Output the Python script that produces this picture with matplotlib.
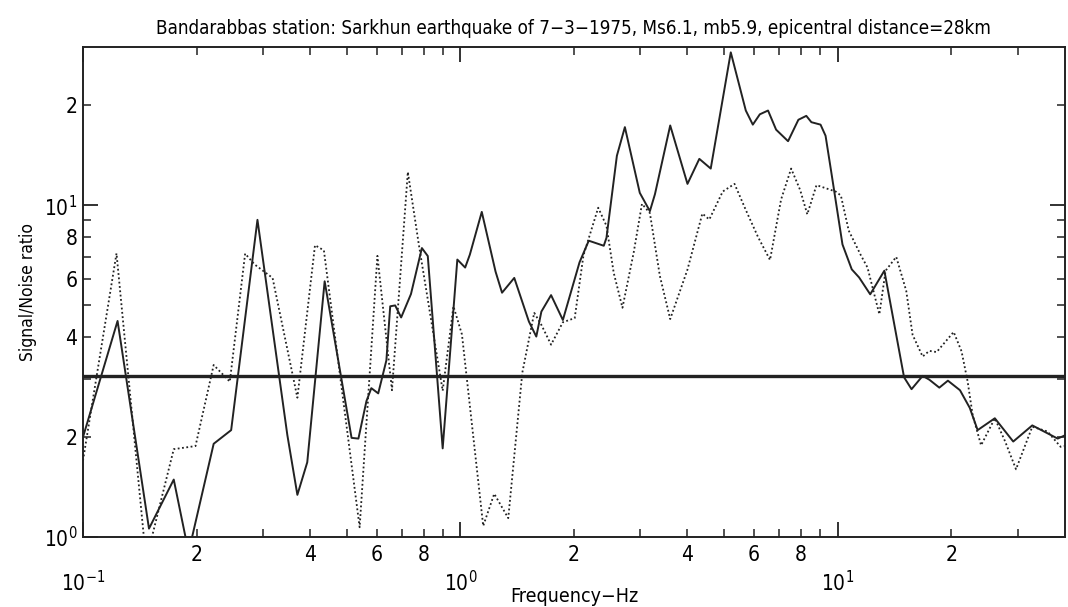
import matplotlib
matplotlib.use("Agg")
import matplotlib.pyplot as plt
from matplotlib.ticker import FixedLocator, FuncFormatter

# SNR values
freq_solid = [0.100, 0.1235, 0.1496, 0.174, 0.1905, 0.222, 0.247, 0.290, 0.348, 0.370,
              0.393, 0.437, 0.515, 0.537, 0.564, 0.581, 0.606, 0.637, 0.652, 0.672,
              0.697, 0.740, 0.791, 0.820, 0.898, 0.982, 1.03, 1.06, 1.14, 1.24,
              1.29, 1.39, 1.52, 1.59, 1.64, 1.74, 1.87, 2.07, 2.19, 2.40,
              2.44, 2.60, 2.73, 2.99, 3.18, 3.28, 3.60, 4.00, 4.30, 4.61,
              5.21, 5.71, 5.96, 6.22, 6.54, 6.87, 7.39, 7.87, 8.26, 8.52,
              9.01, 9.29, 9.64, 10.3, 10.9, 11.4, 12.2, 13.3, 15.0, 15.7,
              16.8, 17.5, 18.6, 19.6, 21.1, 22.4, 23.5, 26.1, 29.2, 32.8,
              38.3, 41.0]
snr_solid = [2.00, 4.48, 1.06, 1.49, 0.90, 1.91, 2.10, 9.04, 2.03, 1.34,
             1.68, 5.90, 1.99, 1.98, 2.57, 2.81, 2.71, 3.41, 4.96, 4.99,
             4.59, 5.40, 7.43, 7.03, 1.85, 6.86, 6.49, 7.10, 9.55, 6.31,
             5.45, 6.04, 4.46, 4.02, 4.78, 5.36, 4.51, 6.73, 7.82, 7.55,
             7.98, 14.1, 17.2, 10.9, 9.60, 10.8, 17.4, 11.6, 13.8, 12.9,
             28.9, 19.3, 17.5, 18.8, 19.3, 16.9, 15.6, 18.1, 18.6, 17.8,
             17.5, 16.2, 12.4, 7.62, 6.41, 6.06, 5.39, 6.35, 3.03, 2.79,
             3.06, 2.98, 2.82, 2.96, 2.77, 2.45, 2.10, 2.28, 1.94, 2.17,
             1.98, 2.05]

freq_dot = [0.100, 0.1227, 0.147, 0.174, 0.1987, 0.222, 0.245, 0.269, 0.285, 0.318,
            0.370, 0.412, 0.435, 0.541, 0.603, 0.659, 0.726, 0.776, 0.898, 0.959,
            1.01, 1.15, 1.23, 1.34, 1.46, 1.57, 1.64, 1.74, 1.87, 2.01,
            2.12, 2.32, 2.44, 2.55, 2.69, 2.88, 3.03, 3.18, 3.38, 3.60,
            4.00, 4.38, 4.57, 4.96, 5.33, 5.71, 6.15, 6.62, 7.08, 7.53,
            7.96, 8.31, 8.79, 9.88, 10.2, 10.7, 11.5, 12.0, 12.9, 13.4,
            14.3, 15.2, 15.8, 16.8, 17.5, 18.3, 20.3, 21.3, 22.1, 22.8,
            24.0, 26.1, 27.8, 29.7, 32.8, 36.0, 39.0, 41.0]
snr_dot = [1.70, 7.16, 0.85, 1.84, 1.88, 3.30, 2.94, 7.15, 6.63, 6.04,
           2.63, 7.58, 7.31, 1.07, 7.04, 2.77, 12.6, 7.64, 2.76, 4.96,
           4.08, 1.08, 1.35, 1.14, 3.13, 4.74, 4.36, 3.80, 4.44, 4.57,
           7.06, 9.83, 8.67, 6.26, 4.91, 7.19, 10.1, 9.47, 6.12, 4.54,
           6.40, 9.44, 9.06, 11.0, 11.6, 9.68, 8.03, 6.84, 10.4, 12.9,
           11.1, 9.39, 11.5, 11.0, 10.7, 8.39, 7.10, 6.49, 4.69, 6.35,
           6.99, 5.52, 4.07, 3.50, 3.64, 3.61, 4.15, 3.63, 2.95, 2.33,
           1.89, 2.28, 1.94, 1.60, 2.15, 2.08, 1.87, 1.89]

noise_level = 3.05

title = ("Bandarabbas station: Sarkhun earthquake of 7\u22123\u22121975, "
         "Ms6.1, mb5.9, epicentral distance=28km")

plt.rcParams['font.family'] = ['DejaVu Sans']
plt.rcParams['font.stretch'] = 'condensed'
plt.rcParams['mathtext.default'] = 'regular'

fig = plt.figure(figsize=(10.68, 6.07), dpi=100)
ax = fig.add_axes([0.0777, 0.1153, 0.9193, 0.8073])

ax.plot(freq_solid, snr_solid, color='#222222', lw=1.4)
ax.plot(freq_dot, snr_dot, color='#222222', lw=1.3, ls=(0, (1, 1.4)))
ax.axhline(noise_level, color='#222222', lw=2.4)

ax.set_xscale('log')
ax.set_yscale('log')
ax.set_xlim(0.1, 40)
ax.set_ylim(1, 30)

# x ticks
ax.xaxis.set_major_locator(FixedLocator([0.1, 1, 10]))
ax.xaxis.set_minor_locator(FixedLocator([m * d for d in (0.1, 1, 10) for m in range(2, 10) if m * d < 40]))
ax.xaxis.set_major_formatter(FuncFormatter(lambda v, p: {0.1: '$10^{-1}$', 1: '$10^{0}$', 10: '$10^{1}$'}.get(round(v, 3), '')))


def minor_label(v, p):
    lead = int(round(v / 10 ** int(f"{v:e}".split('e')[1])))
    return str(lead) if lead in (2, 4, 6, 8) else ''


ax.xaxis.set_minor_formatter(FuncFormatter(minor_label))

# y ticks
ax.yaxis.set_major_locator(FixedLocator([1, 10]))
ax.yaxis.set_minor_locator(FixedLocator([2, 3, 4, 5, 6, 7, 8, 9, 20]))
ax.yaxis.set_major_formatter(FuncFormatter(lambda v, p: {1: '$10^{0}$', 10: '$10^{1}$'}.get(round(v), '')))
ax.yaxis.set_minor_formatter(FuncFormatter(minor_label))

ax.tick_params(which='both', direction='in', top=True, right=True, labelsize=15, color='#222222')
ax.tick_params(which='major', length=11, width=1.3)
ax.tick_params(which='minor', length=6, width=1.1)
ax.tick_params(axis='x', which='minor', pad=6)
ax.tick_params(axis='x', which='major', pad=24)
ax.tick_params(axis='y', which='both', pad=4)

for s in ax.spines.values():
    s.set_linewidth(1.4)
    s.set_color('#222222')

ax.set_title(title, fontsize=13.5, pad=9)
ax.set_xlabel('Frequency\u2212Hz', fontsize=14, labelpad=-6)
ax.set_ylabel('Signal/Noise ratio', fontsize=12.5, labelpad=5)

fig.savefig('out.png', dpi=100)
